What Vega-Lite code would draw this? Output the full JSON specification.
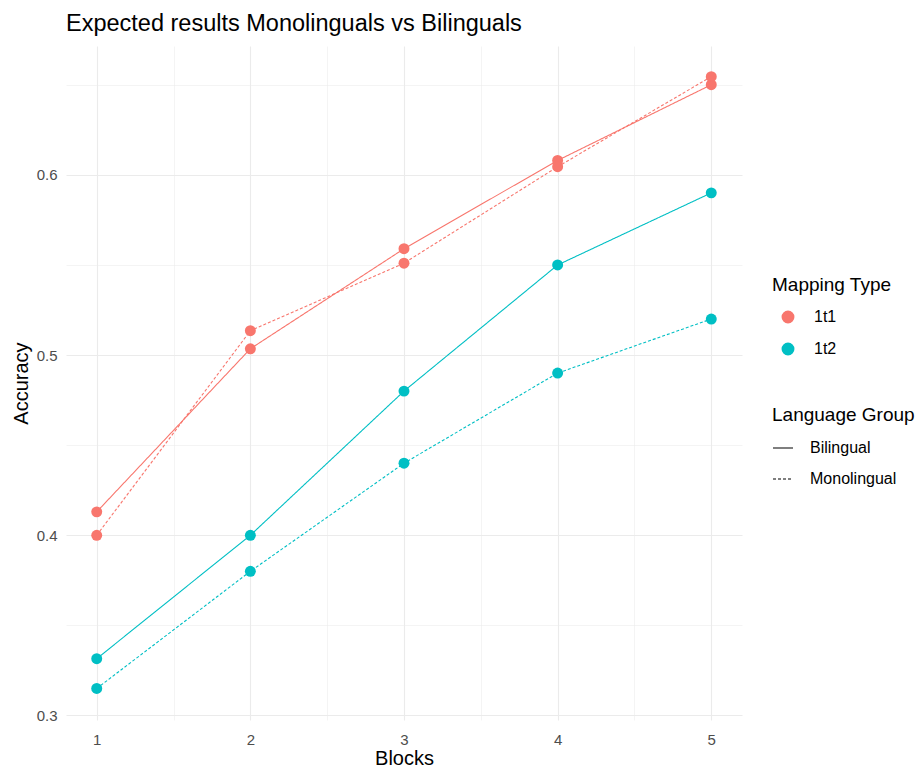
{
  "$schema": "https://vega.github.io/schema/vega-lite/v6.json",
  "autosize": {"type": "none"},
  "padding": {"left": 66, "top": 46, "right": 174, "bottom": 47},
  "width": 676,
  "height": 674,
  "background": "white",
  "title": {
    "text": "Expected results Monolinguals vs Bilinguals",
    "anchor": "start",
    "frame": "group",
    "fontSize": 23.5,
    "fontWeight": "normal",
    "font": "Arial",
    "color": "#000000",
    "offset": 11
  },
  "config": {
    "view": {"stroke": null},
    "font": "Arial",
    "axis": {
      "domain": false,
      "ticks": false,
      "labelFont": "Arial",
      "labelFontSize": 15,
      "labelColor": "#4D4D4D",
      "titleFont": "Arial",
      "titleFontSize": 20,
      "titleFontWeight": "normal",
      "titleColor": "#000000",
      "gridColor": "#EBEBEB"
    },
    "legend": {
      "labelFont": "Arial",
      "titleFont": "Arial",
      "titleFontSize": 19,
      "titleFontWeight": "normal",
      "titleColor": "#000000",
      "labelFontSize": 16,
      "labelColor": "#000000"
    }
  },
  "data": {
    "values": [
      {"Block": 1, "Accuracy": 0.413, "Mapping": "1t1", "Group": "Bilingual"},
      {"Block": 2, "Accuracy": 0.5035, "Mapping": "1t1", "Group": "Bilingual"},
      {"Block": 3, "Accuracy": 0.559, "Mapping": "1t1", "Group": "Bilingual"},
      {"Block": 4, "Accuracy": 0.608, "Mapping": "1t1", "Group": "Bilingual"},
      {"Block": 5, "Accuracy": 0.65, "Mapping": "1t1", "Group": "Bilingual"},
      {"Block": 1, "Accuracy": 0.4, "Mapping": "1t1", "Group": "Monolingual"},
      {"Block": 2, "Accuracy": 0.5135, "Mapping": "1t1", "Group": "Monolingual"},
      {"Block": 3, "Accuracy": 0.551, "Mapping": "1t1", "Group": "Monolingual"},
      {"Block": 4, "Accuracy": 0.6045, "Mapping": "1t1", "Group": "Monolingual"},
      {"Block": 5, "Accuracy": 0.6545, "Mapping": "1t1", "Group": "Monolingual"},
      {"Block": 1, "Accuracy": 0.3315, "Mapping": "1t2", "Group": "Bilingual"},
      {"Block": 2, "Accuracy": 0.4, "Mapping": "1t2", "Group": "Bilingual"},
      {"Block": 3, "Accuracy": 0.48, "Mapping": "1t2", "Group": "Bilingual"},
      {"Block": 4, "Accuracy": 0.55, "Mapping": "1t2", "Group": "Bilingual"},
      {"Block": 5, "Accuracy": 0.59, "Mapping": "1t2", "Group": "Bilingual"},
      {"Block": 1, "Accuracy": 0.315, "Mapping": "1t2", "Group": "Monolingual"},
      {"Block": 2, "Accuracy": 0.38, "Mapping": "1t2", "Group": "Monolingual"},
      {"Block": 3, "Accuracy": 0.44, "Mapping": "1t2", "Group": "Monolingual"},
      {"Block": 4, "Accuracy": 0.49, "Mapping": "1t2", "Group": "Monolingual"},
      {"Block": 5, "Accuracy": 0.52, "Mapping": "1t2", "Group": "Monolingual"}
    ]
  },
  "encoding": {
    "x": {
      "field": "Block",
      "type": "quantitative",
      "title": "Blocks",
      "scale": {"domain": [0.8, 5.2], "nice": false, "zero": false},
      "axis": {
        "values": [1, 1.5, 2, 2.5, 3, 3.5, 4, 4.5, 5],
        "labelExpr": "datum.value % 1 === 0 ? format(datum.value, 'd') : ''",
        "gridWidth": {"condition": {"test": "datum.value % 1 === 0", "value": 1.1}, "value": 0.55},
        "labelPadding": 12,
        "titlePadding": 1
      }
    },
    "y": {
      "field": "Accuracy",
      "type": "quantitative",
      "title": "Accuracy",
      "scale": {"domain": [0.2975, 0.6715], "nice": false, "zero": false},
      "axis": {
        "values": [0.3, 0.35, 0.4, 0.45, 0.5, 0.55, 0.6, 0.65],
        "labelExpr": "round(datum.value * 100) % 10 === 0 ? format(datum.value, '.1f') : ''",
        "gridWidth": {"condition": {"test": "round(datum.value * 100) % 10 === 0", "value": 1.1}, "value": 0.55},
        "labelPadding": 9,
        "titlePadding": 5
      }
    },
    "color": {
      "field": "Mapping",
      "type": "nominal",
      "title": "Mapping Type",
      "scale": {"domain": ["1t1", "1t2"], "range": ["#F8766D", "#00BFC4"]},
      "legend": {
        "orient": "none",
        "legendX": 706,
        "legendY": 230,
        "symbolType": "circle",
        "symbolSize": 130,
        "symbolOffset": 8,
        "labelOffset": 18,
        "rowPadding": 14,
        "titlePadding": 14
      }
    }
  },
  "layer": [
    {
      "mark": {"type": "line", "strokeWidth": 1.1},
      "encoding": {
        "strokeDash": {
          "field": "Group",
          "type": "nominal",
          "title": "Language Group",
          "scale": {"domain": ["Bilingual", "Monolingual"], "range": [[1, 0], [3, 2]]},
          "legend": {
            "orient": "none",
            "legendX": 706,
            "legendY": 360,
            "symbolType": "stroke",
            "symbolSize": 400,
            "symbolStrokeColor": "#000000",
            "symbolStrokeWidth": 1.1,
            "labelOffset": 16,
            "rowPadding": 12,
            "titlePadding": 12
          }
        },
        "detail": {"field": "Group"}
      }
    },
    {
      "mark": {"type": "point", "filled": true, "opacity": 1, "size": 120}
    }
  ]
}
